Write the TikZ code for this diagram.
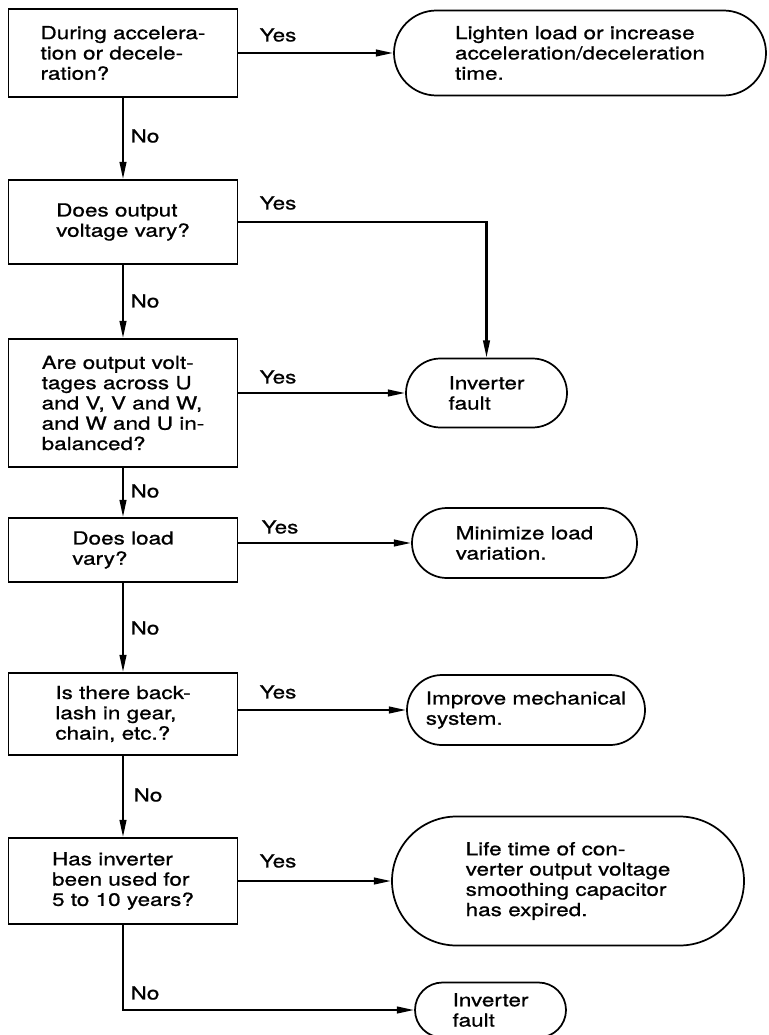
\documentclass[tikz,border=0pt]{standalone}
\usepackage{fontspec}
\setmainfont[FakeStretch=1.25, FakeBold=0.9]{TeX Gyre Heros}
\usepackage{tikz}
\usetikzlibrary{positioning, arrows.meta, shapes.misc}

\begin{document}
\begin{tikzpicture}[x=0.75pt, y=-0.75pt,
    every node/.style={font=\fontsize{13.5}{15.2}\selectfont},
    question/.style={draw, line width=1.3pt, rectangle, align=left, minimum width=171.75pt, inner sep=0pt},
    answer/.style={draw, line width=1.3pt, rounded rectangle, align=left, inner sep=0pt},
    flow/.style={line width=1.6pt, -{Triangle[length=13pt, width=5pt]}}]
    \useasboundingbox (0,0) rectangle (768,1035);

    % Questions down the left side
    \node[question, minimum height=66pt] (q1) at (123,53)
        {During accelera-\\tion or decele-\\ration?};
    \node[question, minimum height=63pt] (q2) at (123,222)
        {Does output\\voltage vary?};
    \node[question, minimum height=96pt] (q3) at (123,403)
        {Are output volt-\\tages across U\\and V, V and W,\\and W and U in-\\balanced?};
    \node[question, minimum height=48pt] (q4) at (123,550)
        {Does load\\vary?};
    \node[question, minimum height=61.5pt] (q5) at (123,714)
        {Is there back-\\lash in gear,\\chain, etc.?};
    \node[question, minimum height=64.5pt] (q6) at (123,881)
        {Has inverter\\been used for\\5 to 10 years?};

    % Remedies on the right
    \node[answer, minimum width=279pt, minimum height=63.75pt] (t1) at (580,53)
        {Lighten load or increase\\acceleration/deceleration\\time.};
    \node[answer, minimum width=120.75pt, minimum height=51.75pt] (t2) at (486.5,393)
        {Inverter\\fault};
    \node[answer, minimum width=168.75pt, minimum height=52.5pt] (t3) at (524.5,543)
        {Minimize load\\variation.};
    \node[answer, minimum width=178.5pt, minimum height=52.5pt] (t4) at (526,710)
        {Improve mechanical\\system.};
    \node[answer, minimum width=264pt, minimum height=96.75pt] (t5) at (568,881)
        {Life time of con-\\verter output voltage\\smoothing capacitor\\has expired.};
    \node[answer, minimum width=113.25pt, minimum height=41.25pt] (t6) at (490.5,1010)
        {Inverter\\fault};

    % No branches
    \draw[flow] (q1) -- (q2);
    \draw[flow] (q2) -- (q3);
    \draw[flow] (q3) -- (q4);
    \draw[flow] (q4) -- (q5);
    \draw[flow] (q5) -- (q6);
    \draw[flow] (q6) |- (t6);

    % Yes branches
    \draw[flow] (q1) -- (t1);
    \draw[flow] (q2) -| (t2);
    \draw[flow] (q3.east |- t2) -- (t2);
    \draw[flow] (q4.east |- t3) -- (t3);
    \draw[flow] (q5.east |- t4) -- (t4);
    \draw[flow] (q6) -- (t5);

    \node (no1) at (145,136) {No};
    \node (no2) at (145,301) {No};
    \node (no3) at (145,491) {No};
    \node (no4) at (145,628) {No};
    \node (no5) at (148,795) {No};
    \node (no6) at (145,993) {No};

    \node (yes1) at (278,35) {Yes};
    \node (yes2) at (278,203) {Yes};
    \node (yes3) at (278,377) {Yes};
    \node (yes4) at (280,527) {Yes};
    \node (yes5) at (278,692) {Yes};
    \node (yes6) at (278,861) {Yes};
\end{tikzpicture}
\end{document}
